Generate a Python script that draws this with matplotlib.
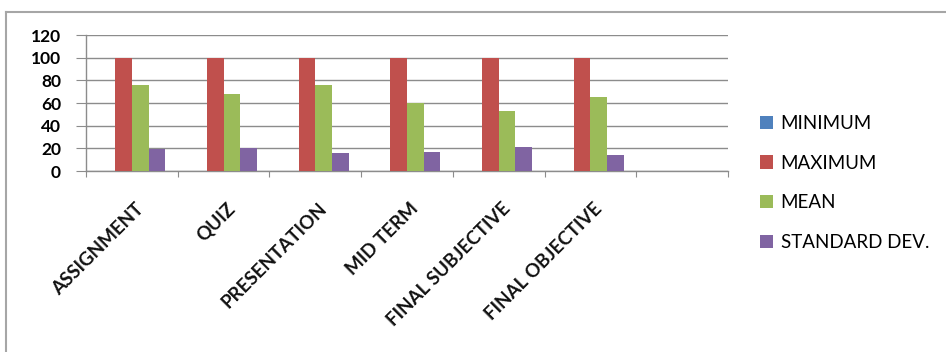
import numpy as np
import matplotlib
matplotlib.use("Agg")
import matplotlib.pyplot as plt
from matplotlib.lines import Line2D

# =====================================================
# DATA
# =====================================================

categories = ["ASSIGNMENT", "QUIZ", "PRESENTATION", "MID TERM",
              "FINAL SUBJECTIVE", "FINAL OBJECTIVE", ""]
series_names = ["MINIMUM", "MAXIMUM", "MEAN", "STANDARD DEV."]

minimum = [0, 0, 0, 0, 0, 0, 0]
maximum = [100, 100, 100, 100, 100, 100, 0]
mean = [75.5, 68, 75.5, 60, 53, 65, 0]
std_dev = [19, 20, 15.5, 17, 21.5, 14, 0]

colors = ["#4F81BD", "#C0504D", "#9BBB59", "#8064A2"]

# =====================================================
# FIGURE
# =====================================================

plt.rcParams["font.family"] = ["Lato", "DejaVu Sans"]

fig = plt.figure(figsize=(9.46, 3.52), dpi=100)
ax = fig.add_axes([86 / 946, 1 - 171 / 352, (728 - 86) / 946, (171 - 35) / 352])

x = np.arange(len(categories))
width = 0.182
all_series = [minimum, maximum, mean, std_dev]
for i, (vals, name, col) in enumerate(zip(all_series, series_names, colors)):
    ax.bar(x + (i - 1.5) * width, vals, width, color=col, label=name, zorder=3)

ax.set_xlim(-0.5, len(categories) - 0.5)
ax.set_ylim(0, 120)
ax.set_yticks(range(0, 121, 20))
ax.yaxis.grid(True, color="#8c8c8c", linewidth=1.0, zorder=0)
ax.set_xticks(np.arange(len(categories) + 1) - 0.5)
ax.set_xticklabels([])

for s in ["top", "right"]:
    ax.spines[s].set_visible(False)
for s in ["left", "bottom"]:
    ax.spines[s].set_color("#8c8c8c")
    ax.spines[s].set_linewidth(1.0)

ax.tick_params(axis="y", length=7, color="#8c8c8c", labelsize=12.5, pad=11)
ax.tick_params(axis="x", length=4, color="#8c8c8c")
for lab in ax.get_yticklabels():
    lab.set_fontweight("bold")

# rotated category labels, tip of each label just right of the slot centre
trans = matplotlib.transforms.blended_transform_factory(ax.transData, fig.transFigure)
for i, cat in enumerate(categories):
    if not cat:
        continue
    ax.text(x[i] + 0.03, 1 - 200 / 352, cat, transform=trans,
            rotation=45, rotation_mode="anchor", ha="right", va="top",
            fontsize=13.5, fontweight="bold", color="#111111")

# legend
fig.legend(loc="center left", bbox_to_anchor=(760 / 946, 1 - 183 / 352),
           frameon=False, fontsize=13.5, handlelength=0.7, handleheight=0.7,
           handletextpad=0.4, labelspacing=1.22, borderpad=0, borderaxespad=0)

# outer chart frame (left and top edges visible)
fig.add_artist(Line2D([6 / 946, 6 / 946], [0, 1 - 12 / 352], transform=fig.transFigure,
                      color="#a6a6a6", linewidth=1.5))
fig.add_artist(Line2D([6 / 946, 1], [1 - 12 / 352, 1 - 12 / 352], transform=fig.transFigure,
                      color="#a6a6a6", linewidth=1.5))

plt.savefig("out.png", dpi=100)
plt.close()
